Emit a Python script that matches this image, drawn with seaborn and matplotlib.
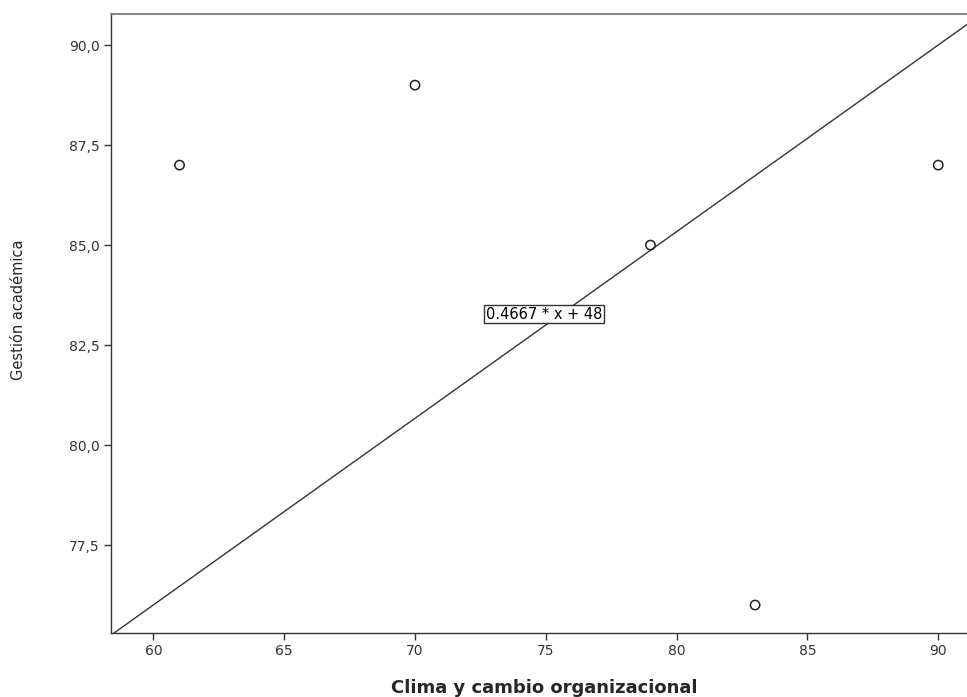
import matplotlib
matplotlib.use("Agg")
import matplotlib.pyplot as plt
from matplotlib.ticker import FuncFormatter
import pandas as pd
import seaborn as sns

# Data
clima = [61, 70, 79, 83, 90]
gestion = [87, 89, 85, 76, 87]
slope = 0.4667
intercept = 48
x_ticks = [60, 65, 70, 75, 80, 85, 90]
y_ticks = [77.5, 80.0, 82.5, 85.0, 87.5, 90.0]

df = pd.DataFrame({"clima": clima, "gestion": gestion})

sns.set_style("ticks")
plt.rcParams["font.family"] = ["DejaVu Sans"]

fig = plt.figure(figsize=(9.67, 6.97), dpi=100)
ax = fig.add_axes([0.1148, 0.0918, 0.8852, 0.8882])

sns.scatterplot(
    x="clima",
    y="gestion",
    data=df,
    ax=ax,
    marker="o",
    s=45,
    facecolor="none",
    edgecolor="#222222",
    linewidth=1.1,
    zorder=3,
)

# Fit line
ax.axline((0, intercept), slope=slope, color="#333333", linewidth=1.0, zorder=2)
ax.text(
    74.93, 83.27, f"{slope} * x + {intercept}",
    ha="center", va="center", fontsize=10.5, color="black",
    bbox=dict(boxstyle="square,pad=0.1", facecolor="white",
              edgecolor="#333333", linewidth=1.0),
    zorder=4,
)

ax.set_xlim(58.38, 91.1)
ax.set_ylim(75.3, 90.78)
ax.set_xticks(x_ticks)
ax.set_yticks(y_ticks)
ax.yaxis.set_major_formatter(
    FuncFormatter(lambda v, p: f"{v:.1f}".replace(".", ","))
)
ax.tick_params(axis="both", direction="out", length=5, width=1.0,
               color="#333333", labelsize=10, labelcolor="#333333", pad=3)

for side in ["left", "bottom"]:
    ax.spines[side].set_color("#333333")
    ax.spines[side].set_linewidth(1.0)
ax.spines["top"].set_visible(True)
ax.spines["top"].set_color("#888888")
ax.spines["top"].set_linewidth(1.5)
ax.spines["right"].set_visible(False)

ax.set_xlabel("Clima y cambio organizacional", fontsize=13, fontweight="bold")
ax.xaxis.set_label_coords(0.506, -0.074)
ax.set_ylabel("Gestión académica", fontsize=10.5)
ax.yaxis.set_label_coords(-0.099, 0.522)

fig.savefig("out.png", dpi=100)
plt.close()
